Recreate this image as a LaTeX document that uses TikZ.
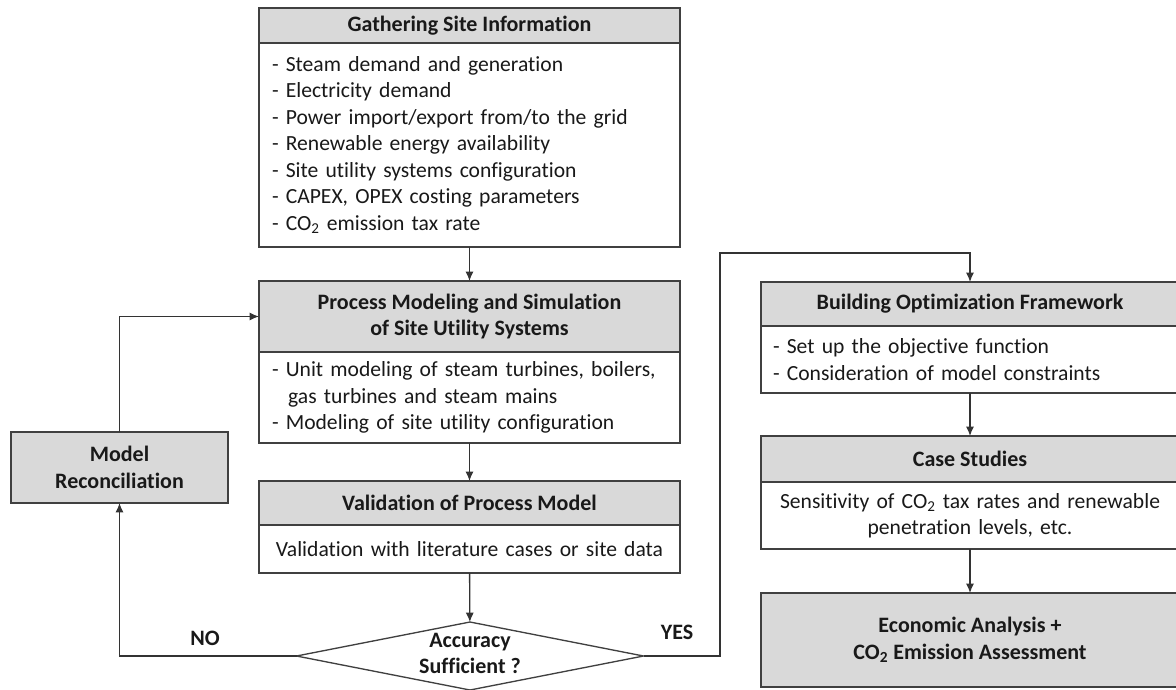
\documentclass[tikz,border=0pt]{standalone}
\usepackage{fontspec}
\setmainfont{Carlito}[Ligatures=NoCommon]
\usetikzlibrary{shapes.geometric,arrows.meta}

\begin{document}
\begin{tikzpicture}[x=0.75pt,y=-0.75pt]
          \tikzstyle{every node}=[font=\fontsize{16.2}{19.9}\selectfont,outer sep=0pt,text=black!90];
          \tikzstyle{head}=[draw=black!75,line width=1pt,fill=gray!30,align=center,inner sep=0pt,font=\fontsize{16.5}{19.9}\selectfont\bfseries];
          \tikzstyle{body}=[draw=black!75,line width=1pt,fill=white,inner xsep=9.75pt,inner ysep=0pt];
          \tikzstyle{link}=[draw=black!80,line width=1pt,-{Latex[length=7pt,width=6pt]}];
          \tikzstyle{answer}=[font=\fontsize{16.5}{19.9}\selectfont\bfseries];
          \useasboundingbox (0,0) rectangle (1176,689);
          %left column: boxes of 421 px
          \node[head,minimum width=315.75pt,minimum height=26.25pt] (gather) at (469.5,25.5) {Gathering Site Information};
          \node[body,text width=296.25pt,minimum height=153pt,align=left] (gatherbody) at (469.5,145) {- Steam demand and generation\\- Electricity demand\\- Power import/export from/to the grid\\- Renewable energy availability\\- Site utility systems configuration\\- CAPEX, OPEX costing parameters\\- CO\textsubscript{2} emission tax rate};
          \node[head,minimum width=315.75pt,minimum height=53.25pt] (process) at (469.5,316.5) {Process Modeling and Simulation\\of Site Utility Systems};
          \node[body,text width=296.25pt,minimum height=68.25pt,align=left] (processbody) at (469.5,397.5) {- Unit modeling of steam turbines, boilers,\\\hspace*{0.75em}gas turbines and steam mains\\- Modeling of site utility configuration};
          \node[head,minimum width=315.75pt,minimum height=33pt] (valid) at (469.5,503) {Validation of Process Model};
          \node[body,text width=296.25pt,minimum height=36pt,align=center] (validbody) at (469.5,549) {Validation with literature cases or site data};
          \node[draw=black!75,line width=1pt,diamond,minimum width=260.25pt,minimum height=51pt,inner sep=0pt] (acc) at (470,656) {};
          \node[answer,align=center] (acctext) at (470,653.5) {Accuracy\\Sufficient ?};
          \node[head,minimum width=162.75pt,minimum height=53.25pt] (recon) at (119.5,467.5) {Model\\Reconciliation};
          %right column: boxes of 418 px
          \node[head,minimum width=313.5pt,minimum height=33pt] (build) at (970,304) {Building Optimization Framework};
          \node[body,text width=295.5pt,inner xsep=9pt,minimum height=50.25pt,align=left] (buildbody) at (970,359.5) {- Set up the objective function\\- Consideration of model constraints};
          \node[head,minimum width=313.5pt,minimum height=34.5pt] (case) at (970,459) {Case Studies};
          \node[body,text width=295.5pt,inner xsep=9pt,minimum height=50.25pt,align=center] (casebody) at (970,515.5) {Sensitivity of CO\textsubscript{2} tax rates and renewable\\penetration levels, etc.};
          \node[head,minimum width=313.5pt,minimum height=70.5pt] (econ) at (970,640) {Economic Analysis +\\CO\textsubscript{2} Emission Assessment};
          \node[answer] (no) at (205,638) {NO};
          \node[answer] (yes) at (677,632) {YES};
          \coordinate (turn) at (720,253);
          \draw[link] (gatherbody)--(process);
          \draw[link] (processbody)--(valid);
          \draw[link] (validbody)--(acc);
          \draw[link] (acc.west)-|(recon.south);
          \draw[link] (recon.north)|-(process.west);
          \draw[link] (acc.east)-|(turn)-|(build.north);
          \draw[link] (buildbody)--(case);
          \draw[link] (casebody)--(econ);
      \end{tikzpicture}
\end{document}
